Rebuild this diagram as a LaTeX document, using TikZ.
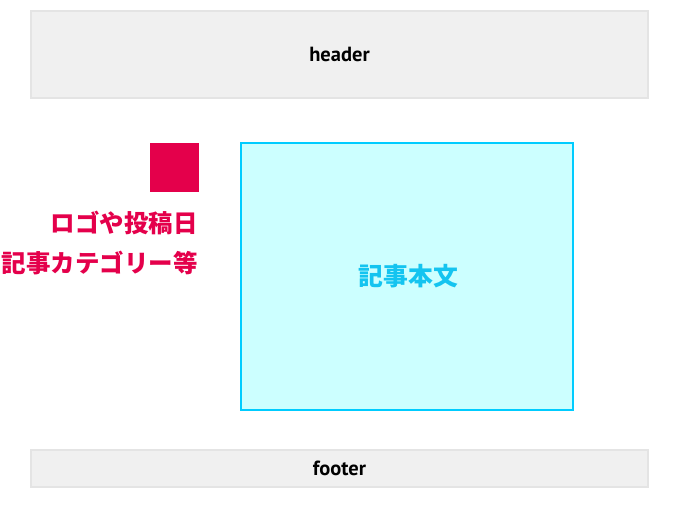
\documentclass[tikz,border=0pt]{standalone}
\usepackage{fontspec}
\setmainfont{PT Sans}
\newfontfamily\jpfont{Noto Sans CJK JP}
\usetikzlibrary{positioning}
\definecolor{panelgray}{RGB}{240, 240, 240}
\definecolor{panelline}{RGB}{228, 228, 228}
\definecolor{bodycyan}{RGB}{204, 255, 255}
\definecolor{bodyline}{RGB}{0, 204, 255}
\definecolor{bodytext}{RGB}{20, 196, 240}
\definecolor{metared}{RGB}{228, 0, 75}

\tikzset{
    panel/.style={draw=panelline, fill=panelgray, line width=2pt, inner sep=0pt,
                  minimum width=617pt, font=\bfseries\fontsize{20.5}{24}\selectfont},
    bodybox/.style={draw=bodyline, fill=bodycyan, line width=2pt, inner sep=0pt,
                    text=bodytext, font=\jpfont\bfseries\fontsize{24.8}{28}\selectfont}
}

\begin{document}
\begin{tikzpicture}[x=1pt, y=-1pt]
            % Frame to fix the page
            \useasboundingbox (0, 0) rectangle (680, 510);
            % Header & footer
            \node[panel, minimum height=87pt]  (header) at (339.5,  54.5) {header};
            \node[panel, minimum height=37pt]  (footer) at (339.5, 468.5) {footer};
            % Article body
            \node[bodybox, minimum width=332pt, minimum height=267pt] (body) at (407, 276.5) {\raisebox{-1pt}{\hspace{3pt}記事本文}};
            % Logo square & meta text
            \node[fill=metared, inner sep=0pt, minimum size=49pt] (logo) at (174.5, 167.5) {};
            \node[anchor=north east, align=right, inner sep=0pt, text=metared,
                  font=\jpfont\bfseries\fontsize{24.5}{40}\selectfont] (meta) at (198, 211)
                 {ロゴや投稿日\\記事カテゴリー等};
        \end{tikzpicture}
\end{document}
